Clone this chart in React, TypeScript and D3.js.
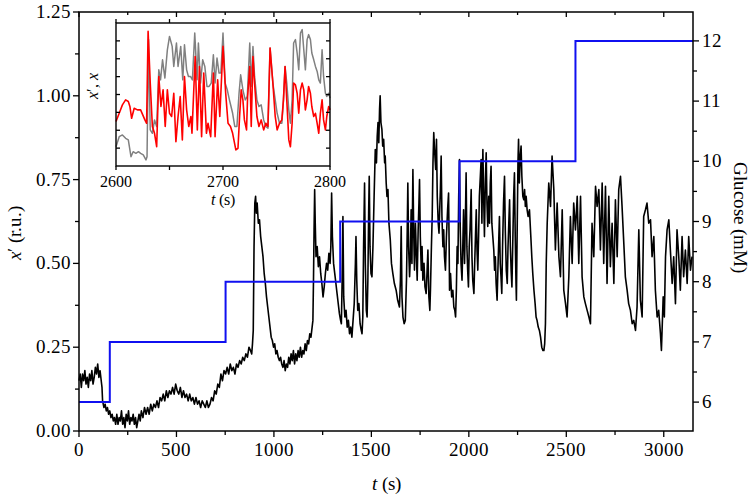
import React from 'react';
import * as d3 from 'd3';

const W = 755;
const H = 497;
const PLOT = { left: 79, right: 693, top: 12, bottom: 431 };
const INSET = { left: 116, right: 330, top: 23, bottom: 166 };

const xMajorTicks = [0, 500, 1000, 1500, 2000, 2500, 3000];
const xMinorTicks = [250, 750, 1250, 1750, 2250, 2750];
const leftMajorTicks = [0, 0.25, 0.5, 0.75, 1.0, 1.25];
const leftMinorTicks = [0.125, 0.375, 0.625, 0.875, 1.125];
const glucoseMajorTicks = [6, 7, 8, 9, 10, 11, 12];
const glucoseMinorTicks = [6.5, 7.5, 8.5, 9.5, 10.5, 11.5];
const insetXMajorTicks = [2600, 2700, 2800];
const insetXMinorTicks = [2650, 2750];
const insetYTicks = [1, 2, 3, 4, 5, 6, 7];

// glucose concentration steps [t (s), mM]
const glucoseSteps: [number, number][] = [
  [0, 6], [158, 7], [752, 8], [1340, 9], [1952, 10], [2547, 12], [3150, 12],
];

// x' trace [t (s), r.u.]
const xPrimeTrace: [number, number][] = [
  [0, 0.15], [6, 0.17], [12, 0.13], [18, 0.17], [24, 0.15], [30, 0.18], [36, 0.14], [42, 0.16],
  [48, 0.13], [54, 0.17], [60, 0.15], [66, 0.18], [72, 0.14], [78, 0.16], [84, 0.19], [90, 0.17],
  [96, 0.2], [102, 0.16], [108, 0.18], [114, 0.15], [118, 0.13], [121, 0.09], [128, 0.07], [134, 0.08],
  [140, 0.06], [146, 0.07], [152, 0.05], [158, 0.06], [164, 0.04], [170, 0.05], [176, 0.03], [182, 0.04],
  [188, 0.02], [194, 0.05], [200, 0.02], [206, 0.04], [212, 0.03], [218, 0.06], [224, 0.02], [230, 0.04],
  [236, 0.01], [242, 0.05], [248, 0.03], [254, 0.06], [260, 0.02], [266, 0.04], [272, 0.03], [278, 0.05],
  [284, 0.02], [290, 0.04], [296, 0.01], [302, 0.03], [308, 0.05], [314, 0.03], [320, 0.06], [328, 0.04],
  [336, 0.07], [344, 0.05], [352, 0.07], [360, 0.05], [368, 0.08], [376, 0.06], [384, 0.08], [392, 0.07],
  [400, 0.09], [408, 0.07], [416, 0.1], [424, 0.09], [432, 0.11], [440, 0.09], [448, 0.12], [456, 0.1],
  [464, 0.12], [472, 0.11], [480, 0.13], [488, 0.11], [496, 0.14], [504, 0.12], [512, 0.11], [520, 0.13],
  [528, 0.1], [536, 0.12], [544, 0.1], [552, 0.11], [560, 0.09], [568, 0.11], [576, 0.09], [584, 0.1],
  [592, 0.08], [600, 0.1], [608, 0.08], [616, 0.09], [624, 0.07], [632, 0.09], [640, 0.08], [648, 0.07],
  [656, 0.09], [664, 0.07], [672, 0.08], [680, 0.1], [688, 0.09], [696, 0.12], [704, 0.11], [712, 0.14],
  [720, 0.13], [728, 0.17], [736, 0.15], [744, 0.18], [752, 0.17], [760, 0.19], [768, 0.17], [776, 0.2],
  [784, 0.18], [792, 0.19], [800, 0.17], [808, 0.2], [816, 0.19], [824, 0.21], [832, 0.2], [840, 0.22],
  [848, 0.21], [856, 0.23], [864, 0.22], [872, 0.25], [880, 0.24], [886, 0.23], [890, 0.26], [894, 0.3],
  [898, 0.55], [902, 0.68], [906, 0.7], [910, 0.65], [914, 0.68], [920, 0.62], [926, 0.63], [932, 0.58],
  [938, 0.55], [944, 0.52], [950, 0.47], [956, 0.44], [962, 0.4], [968, 0.37], [974, 0.34], [980, 0.31],
  [986, 0.28], [992, 0.27], [998, 0.25], [1004, 0.26], [1010, 0.23], [1016, 0.24], [1022, 0.22], [1028, 0.21],
  [1034, 0.22], [1040, 0.2], [1046, 0.19], [1052, 0.21], [1058, 0.18], [1064, 0.2], [1070, 0.19], [1076, 0.22],
  [1082, 0.2], [1088, 0.23], [1094, 0.21], [1100, 0.24], [1106, 0.2], [1112, 0.23], [1118, 0.21], [1124, 0.24],
  [1130, 0.22], [1136, 0.25], [1142, 0.22], [1148, 0.24], [1154, 0.23], [1160, 0.26], [1166, 0.24], [1172, 0.27],
  [1178, 0.26], [1184, 0.29], [1190, 0.28], [1196, 0.31], [1200, 0.33], [1203, 0.45], [1206, 0.6], [1209, 0.72],
  [1212, 0.62], [1216, 0.52], [1222, 0.55], [1228, 0.49], [1234, 0.52], [1240, 0.47], [1246, 0.44], [1252, 0.4],
  [1258, 0.43], [1264, 0.47], [1270, 0.5], [1276, 0.48], [1282, 0.53], [1288, 0.5], [1292, 0.55], [1296, 0.71],
  [1300, 0.58], [1306, 0.5], [1312, 0.47], [1318, 0.44], [1324, 0.41], [1330, 0.38], [1336, 0.35], [1342, 0.33],
  [1346, 0.32], [1350, 0.45], [1354, 0.64], [1358, 0.4], [1364, 0.34], [1370, 0.36], [1376, 0.31], [1382, 0.33],
  [1388, 0.29], [1394, 0.31], [1400, 0.28], [1406, 0.33], [1412, 0.38], [1418, 0.5], [1421, 0.58], [1425, 0.45],
  [1430, 0.36], [1436, 0.38], [1442, 0.32], [1448, 0.3], [1452, 0.29], [1456, 0.34], [1460, 0.55], [1465, 0.74],
  [1469, 0.5], [1474, 0.36], [1478, 0.34], [1482, 0.45], [1486, 0.65], [1489, 0.76], [1493, 0.55], [1498, 0.47],
  [1503, 0.46], [1508, 0.55], [1514, 0.7], [1520, 0.84], [1526, 0.8], [1530, 0.88], [1534, 0.92], [1538, 0.86],
  [1542, 0.96], [1545, 1.0], [1549, 0.92], [1554, 0.9], [1558, 0.85], [1563, 0.87], [1568, 0.8], [1571, 0.82],
  [1576, 0.74], [1580, 0.7], [1585, 0.72], [1590, 0.62], [1597, 0.57], [1603, 0.5], [1610, 0.47], [1618, 0.44],
  [1627, 0.42], [1635, 0.39], [1644, 0.37], [1649, 0.45], [1653, 0.61], [1657, 0.4], [1662, 0.34], [1668, 0.32],
  [1674, 0.33], [1680, 0.45], [1684, 0.6], [1687, 0.74], [1691, 0.55], [1696, 0.46], [1700, 0.52], [1704, 0.66],
  [1708, 0.5], [1713, 0.78], [1717, 0.6], [1721, 0.48], [1726, 0.62], [1730, 0.54], [1735, 0.45], [1740, 0.6],
  [1744, 0.68], [1747, 0.75], [1751, 0.58], [1756, 0.48], [1760, 0.55], [1764, 0.45], [1770, 0.5], [1775, 0.43],
  [1781, 0.41], [1786, 0.48], [1790, 0.54], [1795, 0.4], [1800, 0.36], [1803, 0.42], [1808, 0.55], [1812, 0.64],
  [1816, 0.8], [1820, 0.89], [1824, 0.84], [1830, 0.78], [1834, 0.87], [1838, 0.7], [1843, 0.62], [1847, 0.59],
  [1850, 0.65], [1854, 0.72], [1858, 0.82], [1862, 0.64], [1867, 0.55], [1871, 0.6], [1875, 0.52], [1880, 0.48],
  [1885, 0.58], [1891, 0.66], [1896, 0.71], [1899, 0.55], [1901, 0.42], [1906, 0.47], [1912, 0.4], [1918, 0.42],
  [1923, 0.37], [1928, 0.36], [1932, 0.34], [1936, 0.42], [1940, 0.55], [1944, 0.5], [1948, 0.7], [1952, 0.81],
  [1956, 0.6], [1960, 0.5], [1965, 0.45], [1969, 0.55], [1973, 0.66], [1978, 0.5], [1982, 0.62], [1986, 0.77],
  [1990, 0.55], [1994, 0.48], [1998, 0.43], [2002, 0.55], [2006, 0.6], [2012, 0.72], [2016, 0.52], [2020, 0.45],
  [2026, 0.41], [2030, 0.5], [2034, 0.58], [2038, 0.66], [2042, 0.54], [2046, 0.48], [2050, 0.58], [2054, 0.7],
  [2059, 0.76], [2063, 0.81], [2067, 0.62], [2072, 0.84], [2076, 0.7], [2080, 0.58], [2085, 0.75], [2089, 0.83],
  [2093, 0.68], [2097, 0.61], [2102, 0.7], [2106, 0.62], [2110, 0.74], [2114, 0.79], [2118, 0.62], [2123, 0.58],
  [2128, 0.54], [2132, 0.48], [2136, 0.52], [2140, 0.44], [2145, 0.39], [2150, 0.5], [2154, 0.58], [2157, 0.64],
  [2161, 0.5], [2165, 0.46], [2169, 0.41], [2173, 0.55], [2178, 0.68], [2183, 0.76], [2187, 0.6], [2192, 0.48],
  [2197, 0.44], [2201, 0.55], [2205, 0.62], [2209, 0.69], [2213, 0.55], [2217, 0.48], [2221, 0.43], [2226, 0.58],
  [2230, 0.7], [2234, 0.77], [2238, 0.58], [2242, 0.44], [2244, 0.39], [2248, 0.6], [2252, 0.8], [2255, 0.87],
  [2259, 0.74], [2264, 0.82], [2268, 0.85], [2272, 0.76], [2277, 0.7], [2282, 0.69], [2286, 0.72], [2290, 0.67],
  [2294, 0.7], [2299, 0.66], [2304, 0.64], [2311, 0.66], [2318, 0.58], [2323, 0.52], [2328, 0.47], [2334, 0.42],
  [2340, 0.38], [2345, 0.34], [2350, 0.33], [2356, 0.31], [2362, 0.3], [2368, 0.28], [2374, 0.25], [2380, 0.24],
  [2385, 0.24], [2389, 0.26], [2393, 0.32], [2397, 0.5], [2402, 0.62], [2410, 0.74], [2419, 0.67], [2427, 0.82],
  [2436, 0.72], [2444, 0.54], [2453, 0.68], [2462, 0.52], [2470, 0.46], [2479, 0.66], [2487, 0.42], [2496, 0.38],
  [2504, 0.34], [2513, 0.46], [2521, 0.64], [2530, 0.5], [2538, 0.68], [2547, 0.6], [2556, 0.7], [2564, 0.5],
  [2573, 0.7], [2581, 0.46], [2590, 0.4], [2598, 0.38], [2607, 0.36], [2616, 0.34], [2624, 0.32], [2632, 0.62],
  [2641, 0.52], [2650, 0.73], [2658, 0.67], [2667, 0.72], [2675, 0.54], [2684, 0.74], [2692, 0.5], [2701, 0.73],
  [2709, 0.44], [2718, 0.7], [2726, 0.49], [2735, 0.62], [2744, 0.44], [2752, 0.69], [2761, 0.52], [2769, 0.72],
  [2778, 0.76], [2786, 0.67], [2795, 0.56], [2803, 0.46], [2812, 0.42], [2820, 0.38], [2829, 0.36], [2838, 0.32],
  [2846, 0.33], [2855, 0.3], [2863, 0.37], [2872, 0.6], [2880, 0.39], [2889, 0.34], [2897, 0.64], [2906, 0.66],
  [2914, 0.68], [2923, 0.62], [2932, 0.63], [2940, 0.52], [2949, 0.58], [2957, 0.42], [2966, 0.34], [2974, 0.36],
  [2983, 0.29], [2988, 0.24], [2997, 0.4], [3003, 0.34], [3009, 0.52], [3017, 0.6], [3026, 0.63], [3034, 0.54],
  [3043, 0.44], [3051, 0.52], [3060, 0.38], [3068, 0.6], [3077, 0.52], [3085, 0.42], [3094, 0.58], [3102, 0.46],
  [3111, 0.54], [3120, 0.44], [3128, 0.58], [3137, 0.48], [3145, 0.52],
];

// inset: x' (red) [t (s), a.u.]
const insetXPrime: [number, number][] = [
  [2600, 2.49], [2603, 2.95], [2606, 3.42], [2609, 3.7], [2611.5, 3.61], [2613, 3.33], [2614.6, 2.67],
  [2617, 3.23], [2620, 3.14], [2623, 3.14], [2625, 2.86], [2627, 2.58], [2628.6, 2.39], [2630, 7.53],
  [2632, 4.64], [2634, 2.21], [2636, 1.83], [2638, 1.08], [2640, 5.01], [2642, 3.33], [2644, 4.26],
  [2646, 2.21], [2648, 4.26], [2650, 2.95], [2652, 2.77], [2654, 4.07], [2656, 1.36], [2658, 2.77],
  [2660, 3.89], [2662, 1.46], [2664, 5.01], [2666, 3.14], [2668, 2.21], [2670, 2.77], [2671, 1.83],
  [2674, 6.13], [2676, 2.02], [2678, 5.57], [2680, 1.64], [2682, 5.2], [2684.5, 1.83], [2686, 2.39],
  [2688.5, 1.64], [2691, 5.2], [2692.6, 1.64], [2695, 4.82], [2697, 2.77], [2700, 6.69], [2702.5, 4.07],
  [2704.7, 2.39], [2707, 2.21], [2709, 1.83], [2712, 0.9], [2714, 0.99], [2715.5, 2.77], [2717, 4.26],
  [2718.6, 3.7], [2720, 2.58], [2722, 2.02], [2723, 3.89], [2725, 5.57], [2726.4, 2.21], [2728, 6.13],
  [2729.5, 4.64], [2731.7, 2.77], [2733.6, 2.21], [2735.7, 2.58], [2738, 2.02], [2740, 2.39], [2742, 2.21],
  [2744, 6.6], [2746.6, 4.64], [2748.8, 2.77], [2750.6, 2.02], [2752.8, 2.39], [2755, 2.58], [2756.5, 3.7],
  [2758, 5.57], [2759.6, 3.7], [2761.5, 1.46], [2763, 1.08], [2764.6, 2.39], [2766, 4.64], [2767.7, 4.54],
  [2769.3, 4.07], [2770.8, 2.95], [2772.4, 4.26], [2774, 4.64], [2775.5, 4.26], [2777, 3.14], [2778.6, 3.7],
  [2780, 4.45], [2781.7, 4.07], [2783, 3.33], [2784.8, 2.77], [2786.4, 2.95], [2788, 2.39], [2789.5, 1.83],
  [2791, 2.95], [2792.6, 3.7], [2794, 2.58], [2795.7, 2.02], [2797, 2.77], [2798.8, 3.33], [2800, 3.14],
];

// inset: x (grey) [t (s), a.u.]
const insetX: [number, number][] = [
  [2600, 1.08], [2603, 1.64], [2606, 1.74], [2609, 1.55], [2611.5, 1.46], [2614, 0.52], [2616, 0.8],
  [2618.6, 0.71], [2621, 0.8], [2623, 0.71], [2625.5, 0.62], [2628, 0.34], [2629, 0.52], [2630.4, 7.07],
  [2632, 2.02], [2634, 1.83], [2636, 2.58], [2638, 2.21], [2640, 5.38], [2641.6, 4.82], [2643.5, 5.94],
  [2645.7, 4.92], [2648, 6.5], [2650, 7.25], [2652.5, 6.69], [2654, 5.57], [2656.5, 6.88], [2658, 5.57],
  [2660.5, 6.69], [2662.4, 4.82], [2664, 6.78], [2666, 5.38], [2667.7, 5.01], [2669.6, 5.01], [2671.4, 4.82],
  [2673.6, 7.44], [2675.8, 4.82], [2677, 6.88], [2679, 4.64], [2681, 5.94], [2683, 5.57], [2685, 4.45],
  [2687, 4.45], [2689, 4.64], [2691, 6.22], [2692.6, 4.64], [2694.4, 6.04], [2696.3, 5.2], [2698, 5.2],
  [2700, 7.44], [2702, 4.64], [2704, 4.26], [2706, 3.7], [2707.5, 3.33], [2709, 2.95], [2711, 2.21],
  [2713, 2.21], [2715, 4.07], [2716.5, 5.1], [2718.6, 4.26], [2720.8, 3.7], [2722.7, 3.89], [2725, 6.88],
  [2726.4, 4.45], [2728, 6.69], [2729.5, 5.01], [2731.7, 3.7], [2733.6, 3.33], [2735.7, 3.42], [2738, 2.58],
  [2740, 2.21], [2742, 2.11], [2744, 6.6], [2746.6, 4.64], [2748.8, 3.7], [2750.6, 2.95], [2752.8, 2.39],
  [2755, 2.39], [2756.5, 3.7], [2758, 5.57], [2759.6, 4.64], [2761.5, 3.14], [2763, 2.39], [2764.6, 3.7],
  [2766, 6.88], [2767.7, 7.07], [2769.3, 6.32], [2770.8, 5.38], [2772.4, 7.44], [2774, 7.63], [2775.5, 6.5],
  [2777, 5.38], [2778.6, 7.07], [2780, 7.35], [2781.7, 7.07], [2783, 6.32], [2784.8, 5.94], [2786.4, 5.57],
  [2788, 5.29], [2789.5, 4.82], [2791, 4.64], [2792.6, 6.5], [2794, 5.01], [2795.7, 4.07], [2797, 3.89],
  [2798.8, 4.07], [2800, 3.8],
];

const FONT_CSS = `
@font-face { font-family: 'ChartSerif'; font-style: normal; font-weight: 400;
  src: local('Liberation Serif'), local('LiberationSerif'), local('LiberationSerif-Regular'), local('Times New Roman'), local('DejaVu Serif'), local('DejaVuSerif'); }
@font-face { font-family: 'ChartSerif'; font-style: italic; font-weight: 400;
  src: local('Liberation Serif Italic'), local('LiberationSerif-Italic'), local('DejaVu Serif Italic'), local('DejaVuSerif-Italic'); }
`;
const FONT = "ChartSerif, 'Liberation Serif', 'DejaVu Serif', serif";

export default function App() {
  const x = d3.scaleLinear().domain([0, 3150]).range([PLOT.left, PLOT.right]);
  const yL = d3.scaleLinear().domain([0, 1.25]).range([PLOT.bottom, PLOT.top]);
  const yR = d3.scaleLinear().domain([5.52, 12.48]).range([PLOT.bottom, PLOT.top]);
  const xi = d3.scaleLinear().domain([2600, 2800]).range([INSET.left, INSET.right]);
  const yi = d3.scaleLinear().domain([0, 8]).range([INSET.bottom, INSET.top]);

  const mainLine = d3.line<[number, number]>().x(d => x(d[0])).y(d => yL(d[1]));
  const glucoseLine = d3.line<[number, number]>().x(d => x(d[0])).y(d => yR(d[1])).curve(d3.curveStepAfter);
  const insetLine = d3.line<[number, number]>().x(d => xi(d[0])).y(d => yi(d[1]));

  const tickStroke = { stroke: '#000', strokeWidth: 1.3 };
  const fs = 19;
  const ts = { fontFamily: FONT };

  return (
    <svg width={W} height={H} style={{ position: 'absolute', left: 0, top: 0, background: '#fff' }}>
      <style>{FONT_CSS}</style>
      <rect x={0} y={0} width={W} height={H} fill="#fff" />
      <path d={mainLine(xPrimeTrace) || ''} fill="none" stroke="#000" strokeWidth={1.6} strokeLinejoin="round" />
      <path d={glucoseLine(glucoseSteps) || ''} fill="none" stroke="#1010f0" strokeWidth={2} />

      <rect x={PLOT.left} y={PLOT.top} width={PLOT.right - PLOT.left} height={PLOT.bottom - PLOT.top}
        fill="none" stroke="#000" strokeWidth={1.5} />

      <g fontSize={fs}>
        {xMajorTicks.map(t => (
          <g key={'xb' + t}>
            <line x1={x(t)} x2={x(t)} y1={PLOT.bottom} y2={PLOT.bottom + 6} {...tickStroke} />
            <line x1={x(t)} x2={x(t)} y1={PLOT.top} y2={PLOT.top + 5} {...tickStroke} />
            <text style={ts} x={x(t)} y={PLOT.bottom + 25} textAnchor="middle">{t}</text>
          </g>
        ))}
        {xMinorTicks.map(t => (
          <g key={'xm' + t}>
            <line x1={x(t)} x2={x(t)} y1={PLOT.bottom} y2={PLOT.bottom + 4} {...tickStroke} />
            <line x1={x(t)} x2={x(t)} y1={PLOT.top} y2={PLOT.top + 3} {...tickStroke} />
          </g>
        ))}
        {leftMajorTicks.map(v => (
          <g key={'yl' + v}>
            <line x1={PLOT.left - 6} x2={PLOT.left} y1={yL(v)} y2={yL(v)} {...tickStroke} />
            <text style={ts} x={PLOT.left - 8} y={yL(v) + 6} textAnchor="end">{d3.format('.2f')(v)}</text>
          </g>
        ))}
        {leftMinorTicks.map(v => (
          <line key={'ylm' + v} x1={PLOT.left - 4} x2={PLOT.left} y1={yL(v)} y2={yL(v)} {...tickStroke} />
        ))}
        {glucoseMajorTicks.map(v => (
          <g key={'yr' + v}>
            <line x1={PLOT.right} x2={PLOT.right + 6} y1={yR(v)} y2={yR(v)} {...tickStroke} />
            <text style={ts} x={PLOT.right + 9} y={yR(v) + 6} textAnchor="start">{v}</text>
          </g>
        ))}
        {glucoseMinorTicks.map(v => (
          <line key={'yrm' + v} x1={PLOT.right} x2={PLOT.right + 4} y1={yR(v)} y2={yR(v)} {...tickStroke} />
        ))}

        <text style={ts} x={386} y={490} textAnchor="middle">
          <tspan fontStyle="italic">t</tspan> (s)
        </text>
        <text style={ts} transform="translate(21,233) rotate(-90)" textAnchor="middle">
          <tspan fontStyle="italic">x</tspan>′ (r.u.)
        </text>
        <text style={ts} transform="translate(734,217) rotate(90)" textAnchor="middle">Glucose (mM)</text>
      </g>

      {/* inset */}
      <rect x={INSET.left} y={INSET.top} width={INSET.right - INSET.left} height={INSET.bottom - INSET.top} fill="#fff" />
      <path d={insetLine(insetX) || ''} fill="none" stroke="#808080" strokeWidth={1.5} strokeLinejoin="round" />
      <path d={insetLine(insetXPrime) || ''} fill="none" stroke="#ff0000" strokeWidth={1.6} strokeLinejoin="round" />
      <rect x={INSET.left} y={INSET.top} width={INSET.right - INSET.left} height={INSET.bottom - INSET.top}
        fill="none" stroke="#000" strokeWidth={1.4} />
      <g fontSize={16}>
        {insetXMajorTicks.map(t => (
          <g key={'ix' + t}>
            <line x1={xi(t)} x2={xi(t)} y1={INSET.bottom} y2={INSET.bottom + 4} {...tickStroke} />
            <line x1={xi(t)} x2={xi(t)} y1={INSET.top} y2={INSET.top - 4} {...tickStroke} />
            <text style={ts} x={xi(t)} y={INSET.bottom + 21} textAnchor="middle">{t}</text>
          </g>
        ))}
        {insetXMinorTicks.map(t => (
          <g key={'ixm' + t}>
            <line x1={xi(t)} x2={xi(t)} y1={INSET.bottom} y2={INSET.bottom + 4} {...tickStroke} />
            <line x1={xi(t)} x2={xi(t)} y1={INSET.top} y2={INSET.top - 4} {...tickStroke} />
          </g>
        ))}
        {insetYTicks.map(v => (
          <g key={'iy' + v}>
            <line x1={INSET.left} x2={INSET.left + 4} y1={yi(v)} y2={yi(v)} {...tickStroke} />
            <line x1={INSET.right} x2={INSET.right - 4} y1={yi(v)} y2={yi(v)} {...tickStroke} />
          </g>
        ))}
        <text style={ts} x={223} y={205} textAnchor="middle">
          <tspan fontStyle="italic">t</tspan> (s)
        </text>
        <text style={ts} transform="translate(98,86) rotate(-90)" textAnchor="middle">
          <tspan fontStyle="italic">x</tspan>′, <tspan fontStyle="italic">x</tspan>
        </text>
      </g>
    </svg>
  );
}
